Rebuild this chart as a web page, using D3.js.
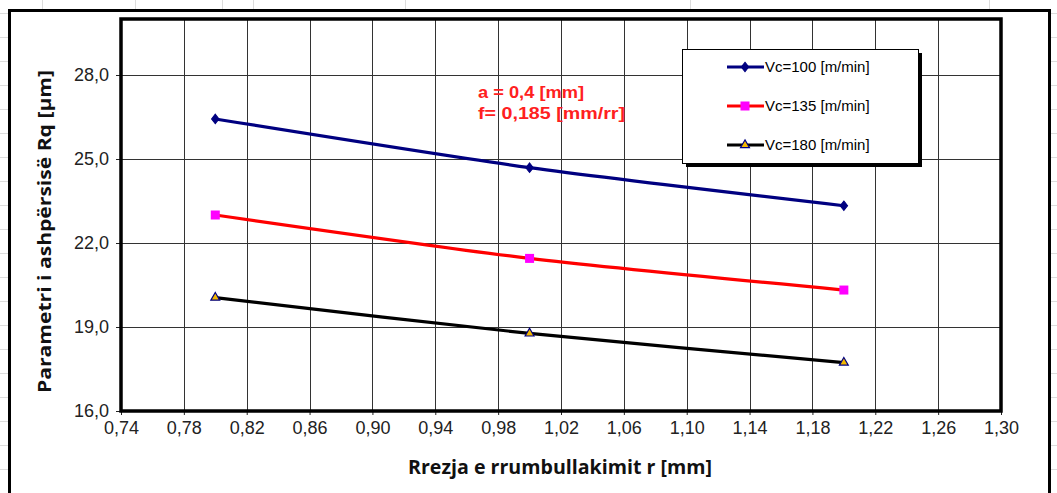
<!DOCTYPE html>
<html>
<head>
<meta charset="utf-8">
<script src="https://cdn.jsdelivr.net/npm/d3@7/dist/d3.min.js"></script>
<style>
  html, body { margin: 0; padding: 0; background: #fff; }
  svg { display: block; }
</style>
</head>
<body>
<svg id="chart" width="1057" height="493"></svg>
<script>
// Radius of the tool nose r [mm]
const radius = [0.80, 1.00, 1.20];
// Roughness Rq [µm] for each cutting speed
const rqVc100 = [26.43, 24.69, 23.33];
const rqVc135 = [23.00, 21.45, 20.32];
const rqVc180 = [20.05, 18.77, 17.73];
const seriesNames = ["Vc=100 [m/min]", "Vc=135 [m/min]", "Vc=180 [m/min]"];
const xTicks = [0.74, 0.78, 0.82, 0.86, 0.90, 0.94, 0.98, 1.02, 1.06, 1.10, 1.14, 1.18, 1.22, 1.26, 1.30];
const yTicks = [16, 19, 22, 25, 28];
const notes = ["a = 0,4 [mm]", "f= 0,185 [mm/rr]"];

const svg = d3.select("#chart");
const W = 1057, H = 493;

// spreadsheet cell grid behind the chart object
const bg = svg.append("g");
const cellCols = [42, 135, 222, 253, 405, 690, 989];
const cellRows = d3.range(13, H, 24);
cellCols.forEach(x => bg.append("line").attr("x1", x + 0.5).attr("x2", x + 0.5)
  .attr("y1", 0).attr("y2", 10).attr("stroke", "#dcdcdc"));
cellRows.forEach(y => {
  bg.append("line").attr("x1", 0).attr("x2", 8).attr("y1", y + 0.5).attr("y2", y + 0.5).attr("stroke", "#dcdcdc");
  bg.append("line").attr("x1", 1051).attr("x2", W).attr("y1", y + 0.5).attr("y2", y + 0.5).attr("stroke", "#dcdcdc");
});

// chart object frame
svg.append("rect").attr("x", 9.5).attr("y", 10.5).attr("width", 1040).attr("height", 500)
  .attr("fill", "#fff").attr("stroke", "#000").attr("stroke-width", 3);

const plot = { left: 121, top: 19, right: 1001, bottom: 411 };
const x = d3.scaleLinear().domain([0.74, 1.30]).range([plot.left, plot.right]);
const y = d3.scaleLinear().domain([16, 30]).range([plot.bottom, plot.top]);
const comma = (v, d) => v.toFixed(d).replace(".", ",");

// grid
const grid = svg.append("g").attr("stroke", "#333").attr("stroke-width", 1);
xTicks.forEach(t => grid.append("line")
  .attr("x1", Math.round(x(t)) + 0.5).attr("x2", Math.round(x(t)) + 0.5)
  .attr("y1", plot.top).attr("y2", plot.bottom));
yTicks.forEach(t => grid.append("line")
  .attr("x1", plot.left).attr("x2", plot.right)
  .attr("y1", Math.round(y(t)) + 0.5).attr("y2", Math.round(y(t)) + 0.5));

// axes
const xAxis = svg.append("g").attr("transform", `translate(0,${plot.bottom})`)
  .call(d3.axisBottom(x).tickValues(xTicks).tickSize(4).tickPadding(6).tickFormat(d => comma(d, 2)));
const yAxis = svg.append("g").attr("transform", `translate(${plot.left},0)`)
  .call(d3.axisLeft(y).tickValues(yTicks).tickSize(5).tickPadding(7).tickFormat(d => comma(d, 1)));
[xAxis, yAxis].forEach(a => {
  a.attr("font-size", 18).attr("font-family", "Liberation Sans, Arial, sans-serif");
  a.select(".domain").remove();
  a.selectAll(".tick line").attr("stroke", "#222");
  a.selectAll("text").attr("fill", "#222");
});

// plot area frame
svg.append("rect").attr("x", plot.left).attr("y", plot.top)
  .attr("width", plot.right - plot.left).attr("height", plot.bottom - plot.top)
  .attr("fill", "none").attr("stroke", "#000").attr("stroke-width", 3.5);

// series
const series = [
  { name: seriesNames[0], values: rqVc100, color: "#000080", marker: "diamond" },
  { name: seriesNames[1], values: rqVc135, color: "#ff0000", marker: "square" },
  { name: seriesNames[2], values: rqVc180, color: "#000000", marker: "triangle" }
];
const line = d3.line().x(d => x(d[0])).y(d => y(d[1])).curve(d3.curveCardinal.tension(0.3));

function drawMarker(g, type, cx, cy) {
  if (type === "diamond") {
    g.append("path").attr("d", d3.symbol(d3.symbolDiamond, 36)())
      .attr("transform", `translate(${cx},${cy}) scale(1.15,0.85)`).attr("fill", "#000080").attr("stroke", "#000080");
  } else if (type === "square") {
    g.append("rect").attr("x", cx - 4.5).attr("y", cy - 4.5).attr("width", 9).attr("height", 9)
      .attr("fill", "#ff00ff");
  } else {
    g.append("path").attr("d", d3.symbol(d3.symbolTriangle, 34)())
      .attr("transform", `translate(${cx},${cy})`).attr("fill", "#f2b800")
      .attr("stroke", "#000080").attr("stroke-width", 1.2);
  }
}

series.forEach(s => {
  const pts = radius.map((r, i) => [r, s.values[i]]);
  svg.append("path").attr("d", line(pts)).attr("fill", "none")
    .attr("stroke", s.color).attr("stroke-width", 3.2);
  const mg = svg.append("g");
  pts.forEach(p => drawMarker(mg, s.marker, x(p[0]), y(p[1])));
});

// legend
const lg = svg.append("g");
lg.append("rect").attr("x", 686).attr("y", 53).attr("width", 236).attr("height", 114).attr("fill", "#000");
lg.append("rect").attr("x", 682.5).attr("y", 49.5).attr("width", 236).attr("height", 114)
  .attr("fill", "#fff").attr("stroke", "#000").attr("stroke-width", 1);
series.forEach((s, i) => {
  const ly = 67 + i * 39;
  lg.append("line").attr("x1", 727).attr("x2", 764).attr("y1", ly).attr("y2", ly)
    .attr("stroke", s.color).attr("stroke-width", 3.2);
  drawMarker(lg, s.marker, 745, ly);
  lg.append("text").attr("x", 765).attr("y", ly).attr("dy", "0.35em")
    .attr("font-family", "Liberation Sans, Arial, sans-serif").attr("font-size", 15)
    .attr("fill", "#000").text(s.name);
});

// cutting parameters note
const noteWidths = [106, 147];
notes.forEach((t, i) => svg.append("text").attr("x", 478).attr("y", 92 + i * 21).attr("dy", "0.35em")
  .attr("font-family", "Liberation Sans, Arial, sans-serif").attr("font-weight", "bold").attr("font-size", 17)
  .attr("textLength", noteWidths[i]).attr("lengthAdjust", "spacingAndGlyphs")
  .attr("fill", "#ff2020").text(t));

// axis titles
svg.append("text").attr("x", 408).attr("y", 467).attr("dy", "0.35em")
  .attr("font-family", "Open Sans, sans-serif").attr("font-weight", "bold")
  .attr("font-size", 19).attr("textLength", 304).attr("lengthAdjust", "spacingAndGlyphs")
  .attr("fill", "#111").text("Rrezja e rrumbullakimit r [mm]");
svg.append("text").attr("transform", "translate(45,393) rotate(-90)").attr("dy", "0.35em")
  .attr("font-family", "Open Sans, sans-serif").attr("font-weight", "bold")
  .attr("font-size", 18.5).attr("textLength", 323).attr("lengthAdjust", "spacingAndGlyphs")
  .attr("fill", "#111").text("Parametri i ashpërsisë Rq  [µm]");
</script>
</body>
</html>
